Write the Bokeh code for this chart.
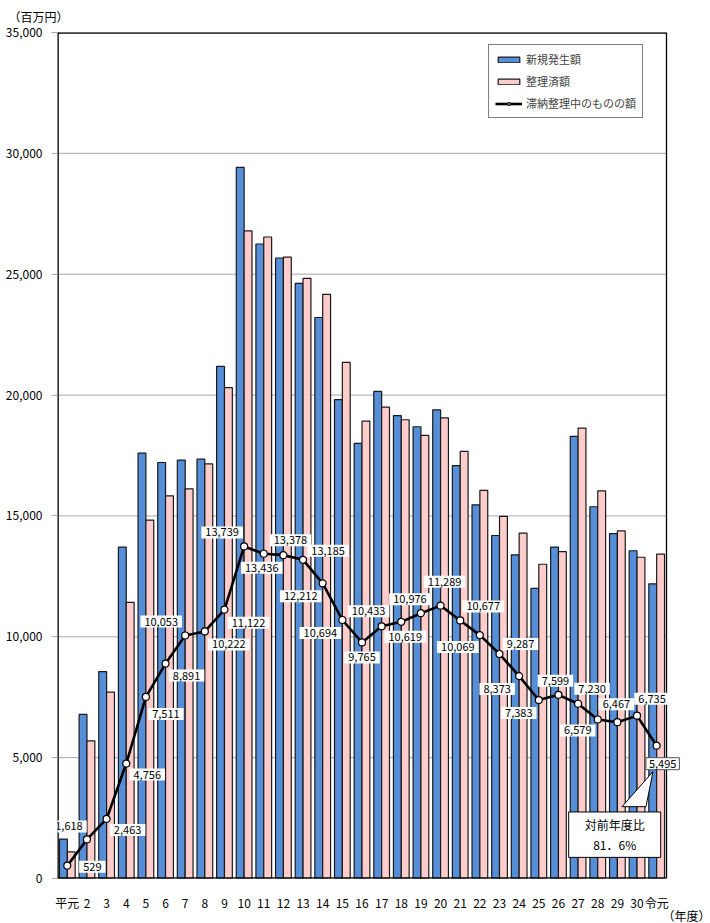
from bokeh.plotting import figure
from bokeh.models import (Range1d, FixedTicker, Legend, LegendItem, Title,
                          ColumnDataSource, NumeralTickFormatter)
from bokeh.core.properties import value
from bokeh.embed import file_html
from bokeh.resources import INLINE

# ---------------- data ----------------
years = ["平元", "2", "3", "4", "5", "6", "7", "8", "9", "10", "11", "12", "13", "14", "15",
         "16", "17", "18", "19", "20", "21", "22", "23", "24", "25", "26", "27", "28", "29",
         "30", "令元"]
new_amount = [1630, 6790, 8560, 13710, 17600, 17210, 17310, 17350, 21190, 29420,
              26250, 25670, 24620, 23210, 19810, 18000, 20150, 19150, 18690, 19390,
              17080, 15460, 14190, 13390, 12000, 13710, 18290, 15380, 14270, 13560, 12190]
settled_amount = [1100, 5690, 7710, 11420, 14830, 15830, 16120, 17150, 20310, 26790,
                  26540, 25710, 24830, 24170, 21350, 18920, 19500, 18980, 18330, 19060,
                  17670, 16060, 14980, 14290, 13000, 13520, 18630, 16040, 14380, 13290, 13420]
backlog = [529, 1618, 2463, 4756, 7511, 8891, 10053, 10222, 11122, 13739,
           13436, 13378, 13185, 12212, 10694, 9765, 10433, 10619, 10976, 11289,
           10677, 10069, 9287, 8373, 7383, 7599, 7230, 6579, 6467, 6735, 5495]
series_names = ["新規発生額", "整理済額", "滞納整理中のものの額"]
y_ticks = [0, 5000, 10000, 15000, 20000, 25000, 30000, 35000]
y_unit = "（百万円）"
x_unit = "（年度）"
callout_text = "対前年度比\n81．6%"

# label placement (screen px, +y = down), style only
label_dx = [25, -18, 21, 21, 20, 21, -24, 24, 24, -22, -2, 7, 25, -22, -22, 0, -13, 4, -11,
            4, 23, -22, 21, -22, -20, -3, 14, -20, -1, 15, 6]
label_dy = [1, -13, 11, 11, 17, 12, -14, 13, 13, -14, 14, -15, -9, 13, 13, 15, -15, 15, -14,
            -24, -14, 12, -10, 13, 13, -14, -15, 11, -18, -17, 18]

FONT = "Noto Sans CJK JP"
W, H = 710, 923
ML, MT, MB = 57, 32, 45
CAT_PX = 609 / len(years)          # pixel width of one category
EXTRA_PX = 20                      # room right of the chart box for the last label
MR = W - ML - 609 - EXTRA_PX
FW, FH = W - ML - MR, H - MT - MB
YMAX = y_ticks[-1]
XL, XR = -0.5, len(years) - 0.5    # chart box edges in data units

xs = list(range(len(years)))
lbls = [f"{v:,}" for v in backlog]
src = ColumnDataSource(dict(
    x=xs,
    xb=[x - 0.2 for x in xs],
    xp=[x + 0.2 for x in xs],
    new=new_amount,
    settled=settled_amount,
    backlog=backlog,
))

p = figure(width=W, height=H, x_range=Range1d(XL, XR + EXTRA_PX / CAT_PX),
           y_range=Range1d(0, YMAX), output_backend="svg", toolbar_location=None,
           min_border_left=ML, min_border_right=MR, min_border_top=MT, min_border_bottom=MB)
p.background_fill_color = "white"
p.border_fill_color = "white"
p.outline_line_color = None

# grid lines (limited to the chart box)
p.xgrid.grid_line_color = None
p.ygrid.grid_line_color = None
p.segment(x0=[XL] * len(y_ticks), y0=y_ticks, x1=[XR] * len(y_ticks), y1=y_ticks,
          line_color="#A8A8A8", line_width=1)

# axes
p.yaxis.ticker = FixedTicker(ticks=y_ticks)
p.yaxis.formatter = NumeralTickFormatter(format="0,0")
p.yaxis.axis_line_color = None
p.yaxis.major_tick_out = 6
p.yaxis.major_tick_in = 0
p.yaxis.major_tick_line_color = "#A8A8A8"
p.yaxis.minor_tick_line_color = None
p.yaxis.major_label_standoff = 9
p.yaxis.major_label_text_font = FONT
p.yaxis.major_label_text_font_size = "12px"
p.yaxis.major_label_text_color = "black"

p.xaxis.ticker = FixedTicker(ticks=xs)
p.xaxis.major_label_overrides = {i: s for i, s in enumerate(years)}
p.xaxis.axis_line_color = None
p.xaxis.major_tick_line_color = None
p.xaxis.minor_tick_line_color = None
p.xaxis.major_label_standoff = 9
p.xaxis.major_label_text_font = FONT
p.xaxis.major_label_text_font_size = "12px"
p.xaxis.major_label_text_color = "black"

# bars
rb = p.vbar(x="xb", top="new", width=0.4, source=src, fill_color="#568ED8",
            line_color="#1a1a1a", line_width=1.2)
rp = p.vbar(x="xp", top="settled", width=0.4, source=src, fill_color="#FFCCCC",
            line_color="#1a1a1a", line_width=1.2)

# chart box borders
p.segment(x0=[XL, XL, XL], y0=[0, 0, YMAX], x1=[XL, XR, XR], y1=[YMAX, 0, YMAX],
          line_color="black", line_width=2.6)
p.segment(x0=[XR], y0=[0], x1=[XR], y1=[YMAX], line_color="black", line_width=1.3)

# line
rl = p.line(x="x", y="backlog", source=src, line_color="black", line_width=2.6)
rs = p.scatter(x="x", y="backlog", source=src, size=7, fill_color="white",
               line_color="black", line_width=1.2)

# value labels (all but the last)
lab_src = ColumnDataSource(dict(
    x=xs[:-1], y=backlog[:-1], t=lbls[:-1], dx=label_dx[:-1], dy=label_dy[:-1]))
p.text(x="x", y="y", text="t", x_offset="dx", y_offset="dy", source=lab_src,
       text_font=value(FONT), text_font_size="11px", text_align="center",
       text_baseline="middle", text_color="black", background_fill_color="white",
       padding={"left": 4, "right": 4, "top": 2, "bottom": 2})

# tail of the callout (pixel offsets converted to data units)
px_x = 1 / CAT_PX
px_y = YMAX / FH
lx, ly = xs[-1], backlog[-1]
p.patch(x=[lx - 34.7 * px_x, lx - 3.7 * px_x, lx - 10.7 * px_x],
        y=[ly - 61 * px_y, ly - 26 * px_y, ly - 61 * px_y],
        fill_color="white", line_color="black", line_width=1)

# last value label (bordered)
last_src = ColumnDataSource(dict(x=[lx], y=[ly], t=[lbls[-1]]))
p.text(x="x", y="y", text="t", x_offset=label_dx[-1], y_offset=label_dy[-1], source=last_src,
       text_font=value(FONT), text_font_size="11px", text_align="center",
       text_baseline="middle", text_color="black", background_fill_color="white",
       border_line_color="#555555", border_line_width=1,
       padding={"left": 3, "right": 3, "top": 2, "bottom": 2})

call_src = ColumnDataSource(dict(x=[lx], y=[ly], t=[callout_text]))
p.text(x="x", y="y", text="t", x_offset=-42, y_offset=89, source=call_src,
       text_font=value(FONT), text_font_size="12px", text_align="center",
       text_baseline="middle", text_color="black", background_fill_color="white",
       border_line_color="black", border_line_width=1, text_line_height=1.2,
       padding={"left": 16, "right": 16, "top": 4, "bottom": 4})

# legend
legend = Legend(items=[
    LegendItem(label=series_names[0], renderers=[rb]),
    LegendItem(label=series_names[1], renderers=[rp]),
    LegendItem(label=series_names[2], renderers=[rl, rs]),
], location=(431, FH - 17 - 69))
legend.label_text_font = FONT
legend.label_text_font_size = "11px"
legend.label_height = 15
legend.glyph_height = 7
legend.glyph_width = 27
legend.label_standoff = 4
legend.spacing = 6
legend.padding = 6
legend.margin = 0
legend.border_line_color = "black"
legend.border_line_width = 1
legend.background_fill_color = "white"
legend.background_fill_alpha = 1
p.add_layout(legend, "center")

# unit labels
p.add_layout(Title(text=y_unit, align="left", offset=-49, standoff=12, vertical_align="top",
                   text_font=FONT, text_font_size="12px", text_font_style="normal",
                   text_color="black"), "above")
p.add_layout(Title(text=x_unit, align="right", offset=-24, standoff=-17,
                   text_font=FONT, text_font_size="12px", text_font_style="normal",
                   text_color="black"), "below")

open("out.html", "w").write(file_html(p, INLINE))
